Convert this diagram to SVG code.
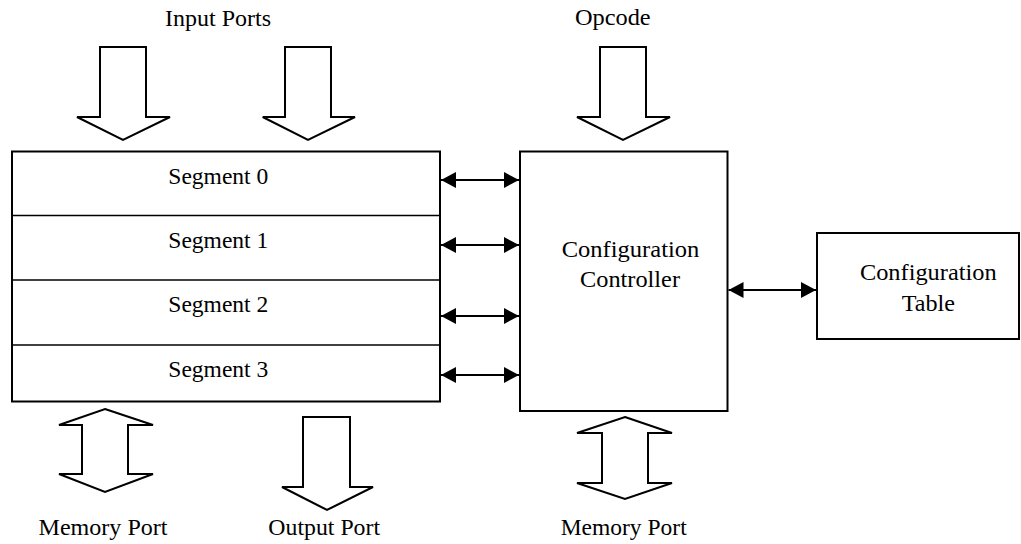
<svg xmlns="http://www.w3.org/2000/svg" width="1021" height="544" viewBox="0 0 1021 544">
  <style>
    .box { fill: #ffffff; stroke: #000000; stroke-width: 2; }
    .div { stroke: #000000; stroke-width: 1.5; }
    .port { fill: #ffffff; stroke: #000000; stroke-width: 2; stroke-linejoin: miter; }
    .link { stroke: #000000; stroke-width: 2; fill: none; marker-start: url(#head); marker-end: url(#head); }
    text { font-family: "Liberation Serif", "Times New Roman", serif; font-size: 23px; fill: #000000; text-anchor: middle; }
  </style>
  <defs>
    <marker id="head" viewBox="0 0 15 16" refX="15" refY="8" markerWidth="15" markerHeight="16" markerUnits="userSpaceOnUse" orient="auto-start-reverse">
      <path d="M0,0 L15,8 L0,16 Z" fill="#000000"/>
    </marker>
  </defs>
  <rect width="1021" height="544" fill="#ffffff"/>

  <!-- segmented fabric block -->
  <g id="segments">
    <rect class="box" x="12" y="151.5" width="428" height="250"/>
    <line class="div" x1="12" y1="215.5" x2="440" y2="215.5"/>
    <line class="div" x1="12" y1="280" x2="440" y2="280"/>
    <line class="div" x1="12" y1="345" x2="440" y2="345"/>
    <text x="218.3" y="183.5" textLength="100" lengthAdjust="spacingAndGlyphs">Segment 0</text>
    <text x="218.3" y="248.3" textLength="100" lengthAdjust="spacingAndGlyphs">Segment 1</text>
    <text x="218.3" y="311.7" textLength="100" lengthAdjust="spacingAndGlyphs">Segment 2</text>
    <text x="218.3" y="376.7" textLength="100" lengthAdjust="spacingAndGlyphs">Segment 3</text>
  </g>

  <g id="controller">
    <rect class="box" x="520" y="151.5" width="207.5" height="259.5"/>
    <text x="630.5" y="256.7" textLength="137.6" lengthAdjust="spacingAndGlyphs">Configuration</text>
    <text x="630" y="286.7" textLength="100" lengthAdjust="spacingAndGlyphs">Controller</text>
  </g>

  <g id="config-table">
    <rect class="box" x="817" y="233" width="202" height="106"/>
    <text x="928.3" y="280" textLength="136.7" lengthAdjust="spacingAndGlyphs">Configuration</text>
    <text x="928.3" y="310.7" textLength="53.3" lengthAdjust="spacingAndGlyphs">Table</text>
  </g>

  <!-- wide port arrows -->
  <g id="input-ports">
    <polygon class="port" points="100,47 146,47 146,117 170,117 123,140 77,117 100,117"/>
    <polygon class="port" points="285,47 331,47 331,117 355,117 308,140 262.7,117 285,117"/>
    <text x="218" y="25.5" textLength="106" lengthAdjust="spacingAndGlyphs">Input Ports</text>
  </g>

  <g id="opcode">
    <polygon class="port" points="600,47 646,47 646,117 670,117 623,140 577,117 600,117"/>
    <text x="612.8" y="24.5" textLength="75.7" lengthAdjust="spacingAndGlyphs">Opcode</text>
  </g>

  <g id="memory-port-left">
    <polygon class="port" points="105,409 153,425 128,425 128,474 153,474 105,492 59,474 82,474 82,425 59,425"/>
    <text x="103" y="535" textLength="129" lengthAdjust="spacingAndGlyphs">Memory Port</text>
  </g>

  <g id="output-port">
    <polygon class="port" points="303,417 350,417 350,487 373,487 327,510 282,487 303,487"/>
    <text x="324.2" y="535" textLength="111.7" lengthAdjust="spacingAndGlyphs">Output Port</text>
  </g>

  <g id="memory-port-right">
    <polygon class="port" points="625,417 672,433 648,433 648,483 672,483 625,499 577,483 602,483 602,433 577,433"/>
    <text x="623.7" y="535" textLength="126" lengthAdjust="spacingAndGlyphs">Memory Port</text>
  </g>

  <!-- bidirectional links -->
  <g id="connectors">
    <line class="link" x1="441" y1="180" x2="519" y2="180"/>
    <line class="link" x1="441" y1="245" x2="519" y2="245"/>
    <line class="link" x1="441" y1="316" x2="519" y2="316"/>
    <line class="link" x1="441" y1="375" x2="519" y2="375"/>
    <line class="link" x1="728.5" y1="290" x2="816" y2="290"/>
  </g>
</svg>
